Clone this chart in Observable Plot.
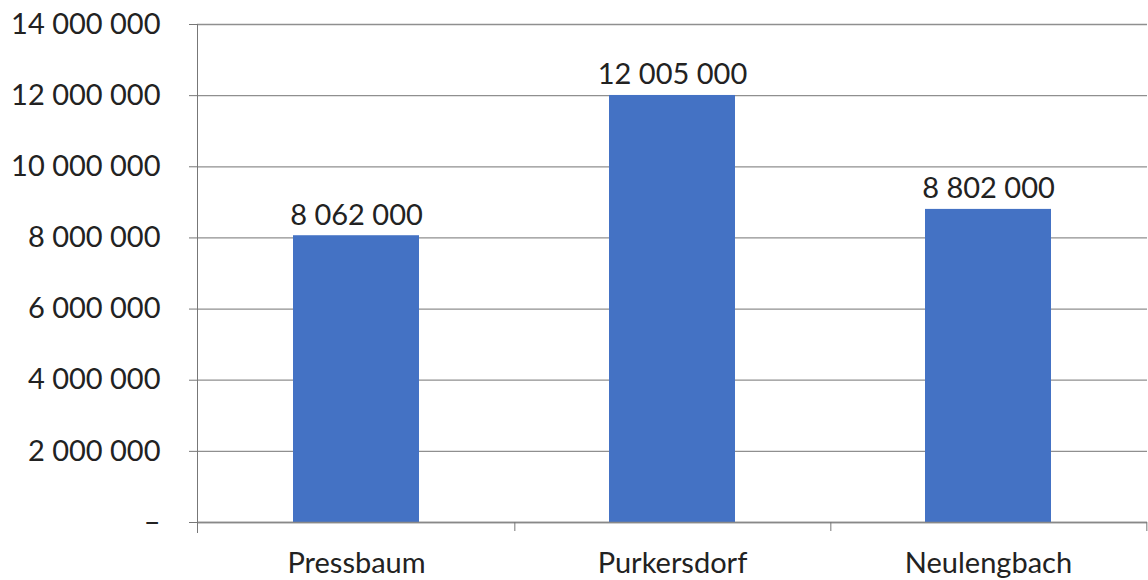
<!DOCTYPE html>
<html><head><meta charset="utf-8">
<script src="https://cdn.jsdelivr.net/npm/d3@7"></script>
<script src="https://cdn.jsdelivr.net/npm/@observablehq/plot@0.6"></script>
<style>body{margin:0;background:#fff}</style>
</head><body><div id="chart"></div>
<script>
const towns = ["Pressbaum", "Purkersdorf", "Neulengbach"];
const amounts = [8062000, 12005000, 8802000];
const yTicks = [0, 2000000, 4000000, 6000000, 8000000, 10000000, 12000000, 14000000];

const data = towns.map((t, i) => ({town: t, value: amounts[i]}));
const fmt = v => v === 0 ? "–" : d3.format(",")(v).replace(/,/g, " ");
const font = "Lato, 'Open Sans', sans-serif";

const W = 1148, H = 580, mL = 197, mR = 1;
const step = (W - mL - mR) / 3;

const chart = Plot.plot({
  width: W, height: H,
  marginLeft: mL, marginRight: mR, marginTop: 24, marginBottom: 58,
  style: {fontFamily: font, fontSize: "29px", color: "#222", background: "#fff"},
  x: {domain: towns, paddingInner: 0.6, paddingOuter: 0.3, label: null},
  y: {domain: [0, 14000000], label: null},
  marks: [
    Plot.ruleY(yTicks, {stroke: "#8f8f8f", strokeWidth: 1.3}),
    Plot.axisY({ticks: yTicks, tickFormat: fmt, tickSize: 8, tickPadding: 29, stroke: "#777", label: null, fontSize: 29, fill: "#222"}),
    Plot.axisX({tickSize: 0, tickPadding: 30, label: null, fontSize: 29, fill: "#222"}),
    Plot.barY(data, {x: "town", y: "value", fill: "#4472C4"}),
    Plot.ruleY([0], {stroke: "#888", strokeWidth: 1.3}),
    Plot.ruleX(towns, {x: d => d, y1: 0, y2: 0, insetBottom: -9, dx: step / 2, stroke: "#777"}),
    Plot.frame({anchor: "left", stroke: "#777", insetBottom: -10}),
    Plot.text(data, {x: "town", y: "value", text: d => fmt(d.value), lineAnchor: "bottom", dy: -11, fontSize: 29, fill: "#222"})
  ]
});
document.getElementById("chart").appendChild(chart);
</script></body></html>
